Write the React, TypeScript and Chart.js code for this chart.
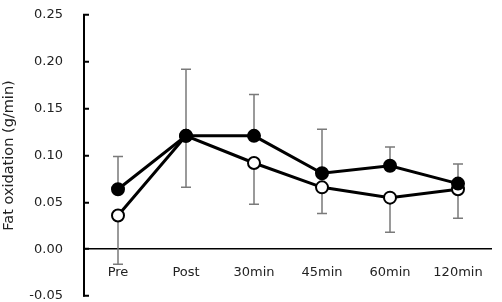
import React, { useEffect, useRef } from "react";
import { Chart, registerables } from "chart.js";

Chart.register(...registerables);

// Time points
const categories = ["Pre", "Post", "30min", "45min", "60min", "120min"];

// Mean fat oxidation (g/min)
const filledMeans = [0.064, 0.121, 0.121, 0.081, 0.089, 0.070];
const openMeans = [0.036, 0.121, 0.092, 0.066, 0.055, 0.064];

// Standard deviations (filled shown upward, open shown downward)
const filledSD = [0.035, 0.071, 0.044, 0.047, 0.020, 0.021];
const openSD = [0.052, 0.055, 0.044, 0.028, 0.037, 0.031];

const yTicks = { min: -0.05, max: 0.25, step: 0.05 };

const FONT = "'DejaVu Sans', Verdana, sans-serif";

// Draws one-sided error bars behind the markers
const errorBarPlugin = {
  id: "errorBars",
  beforeDatasetsDraw(chart: any) {
    const { ctx, scales } = chart;
    const x = scales.x;
    const y = scales.y;
    const cap = 5;
    ctx.save();
    ctx.strokeStyle = "#7a7a7a";
    ctx.lineWidth = 1.5;
    const draw = (means: number[], sds: number[], dir: number) => {
      means.forEach((m, i) => {
        const px = x.getPixelForValue(i);
        const y0 = y.getPixelForValue(m);
        const y1 = y.getPixelForValue(m + dir * sds[i]);
        ctx.beginPath();
        ctx.moveTo(px, y0);
        ctx.lineTo(px, y1);
        ctx.moveTo(px - cap, y1);
        ctx.lineTo(px + cap, y1);
        ctx.stroke();
      });
    };
    draw(filledMeans, filledSD, 1);
    draw(openMeans, openSD, -1);
    ctx.restore();
  },
};

// Category labels sit just below the zero line
const zeroLabelPlugin = {
  id: "zeroLabels",
  afterDraw(chart: any) {
    const { ctx, scales } = chart;
    const x = scales.x;
    const y0 = scales.y.getPixelForValue(0);
    ctx.save();
    ctx.fillStyle = "#222";
    ctx.font = `13px ${FONT}`;
    ctx.textAlign = "center";
    ctx.textBaseline = "middle";
    x.getLabels().forEach((c: string, i: number) => {
      ctx.fillText(c, x.getPixelForValue(i), y0 + 23);
    });
    ctx.restore();
  },
};

export default function App() {
  const ref = useRef<HTMLCanvasElement>(null);

  useEffect(() => {
    if (!ref.current) return;
    const chart = new Chart(ref.current, {
      type: "line",
      data: {
        labels: categories,
        datasets: [
          {
            data: filledMeans,
            borderColor: "#000",
            borderWidth: 3,
            backgroundColor: "#000",
            pointBackgroundColor: "#000",
            pointBorderColor: "#000",
            pointBorderWidth: 2,
            pointRadius: 6,
            tension: 0,
          },
          {
            data: openMeans,
            borderColor: "#000",
            borderWidth: 3,
            backgroundColor: "#fff",
            pointBackgroundColor: "#fff",
            pointBorderColor: "#000",
            pointBorderWidth: 2,
            pointRadius: 6,
            tension: 0,
          },
        ],
      },
      options: {
        responsive: false,
        animation: false,
        layout: { autoPadding: false, padding: { top: 15, right: 10, bottom: 6, left: 0 } },
        plugins: {
          legend: { display: false },
          tooltip: { enabled: false },
        },
        scales: {
          x: {
            type: "category",
            offset: true,
            display: false,
          },
          y: {
            min: yTicks.min,
            max: yTicks.max,
            grid: {
              drawOnChartArea: true,
              drawTicks: true,
              tickLength: -5,
              color: (c: any) =>
                c.tick && Math.abs(c.tick.value) < 1e-9 ? "#000" : "rgba(0,0,0,0)",
              lineWidth: 1.5,
              tickColor: "#000",
              tickWidth: 2,
            },
            border: { display: true, color: "#000", width: 2 },
            ticks: {
              stepSize: yTicks.step,
              color: "#222",
              padding: 26,
              font: { family: FONT, size: 13 },
              callback: (v: any) => (Math.round(Number(v) * 100) / 100).toFixed(2),
            },
            title: {
              display: true,
              text: "Fat oxidation (g/min)",
              color: "#222",
              font: { family: FONT, size: 14.5 },
              padding: { top: 1, bottom: 0 },
            },
            afterFit(scale: any) {
              scale.width = 84;
              scale.paddingTop = 0;
              scale.paddingBottom = 0;
            },
          },
        },
      },
      plugins: [errorBarPlugin, zeroLabelPlugin],
    });
    return () => chart.destroy();
  }, []);

  return (
    <canvas
      ref={ref}
      width={502}
      height={302}
      style={{ position: "absolute", left: 0, top: 0, display: "block" }}
    />
  );
}
